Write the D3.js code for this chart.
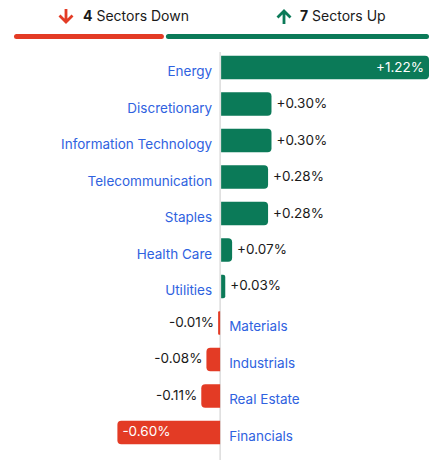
<!DOCTYPE html>
<html>
<head>
    <script src="https://d3js.org/d3.v7.min.js"></script>
    <style>
        body { margin: 0; background: #fff; font-family: Inter, "Noto Sans", Arial, sans-serif; }
        .cat { font-size: 13.5px; fill: #2f62e0; }
        .val { font-size: 13.5px; fill: #1a1a1a; }
        .val.inside { fill: #fff; }
        .head { font-size: 14px; fill: #1a1a1a; }
    </style>
</head>
<body>
<div id="chart"></div>
<script>
    const sectors = ["Energy", "Discretionary", "Information Technology", "Telecommunication", "Staples",
        "Health Care", "Utilities", "Materials", "Industrials", "Real Estate", "Financials"];
    const changes = [1.22, 0.30, 0.30, 0.28, 0.28, 0.07, 0.03, -0.01, -0.08, -0.11, -0.60];
    const downCount = 4;
    const upCount = 7;

    const width = 447, height = 460;
    const green = "#0b7a58", red = "#e33b25";

    const svg = d3.select("#chart").append("svg")
        .attr("width", width)
        .attr("height", height);

    // header: counts and split bar
    const down = svg.append("g").attr("transform", "translate(66,16)");
    down.append("path")
        .attr("d", "M0,-7 V6 M-6.5,-0.5 L0,6 L6.5,-0.5")
        .attr("fill", "none").attr("stroke", red).attr("stroke-width", 2.8);
    down.append("text").attr("class", "head").attr("x", 17).attr("y", 5)
        .html(`<tspan font-weight="700">${downCount}</tspan> Sectors Down`);

    const up = svg.append("g").attr("transform", "translate(284,16)");
    up.append("path")
        .attr("d", "M0,8 V-5 M-6.5,1.5 L0,-5 L6.5,1.5")
        .attr("fill", "none").attr("stroke", green).attr("stroke-width", 2.8);
    up.append("text").attr("class", "head").attr("x", 16).attr("y", 5)
        .html(`<tspan font-weight="700">${upCount}</tspan> Sectors Up`);

    const split = d3.scaleLinear().domain([0, downCount + upCount]).range([14, 429]);
    svg.append("rect").attr("x", split(0)).attr("y", 34).attr("width", split(downCount) - split(0) - 1)
        .attr("height", 5).attr("rx", 2.5).attr("fill", red);
    svg.append("rect").attr("x", split(downCount) + 1).attr("y", 34).attr("width", split(downCount + upCount) - split(downCount) - 1)
        .attr("height", 5).attr("rx", 2.5).attr("fill", green);

    // bars
    const x = d3.scaleLinear().domain([-0.60, 1.22]).range([117.4, 429]);
    const y = d3.scaleBand().domain(sectors).range([49.25, 450.75]).paddingInner(0.355).paddingOuter(0.18);
    const data = sectors.map((s, i) => ({ name: s, v: changes[i] }));

    svg.append("line")
        .attr("x1", x(0)).attr("x2", x(0))
        .attr("y1", 52).attr("y2", height)
        .attr("stroke", "#dcdcdc").attr("stroke-width", 1.5);

    const barPath = d => {
        const h = y.bandwidth(), top = y(d.name);
        if (d.v >= 0) {
            const x0 = x(0) + 1;
            const x1 = Math.max(x(d.v), x0 + 2);
            const r = Math.min(4, (x1 - x0) / 2);
            return `M${x0},${top} H${x1 - r} Q${x1},${top} ${x1},${top + r} V${top + h - r} Q${x1},${top + h} ${x1 - r},${top + h} H${x0} Z`;
        }
        const x0 = x(0);
        const x1 = Math.min(x(d.v), x0 - 2);
        const r = Math.min(4, (x0 - x1) / 2);
        return `M${x0},${top} H${x1 + r} Q${x1},${top} ${x1},${top + r} V${top + h - r} Q${x1},${top + h} ${x1 + r},${top + h} H${x0} Z`;
    };

    const rows = svg.selectAll(".row").data(data).enter().append("g").attr("class", "row");

    rows.append("path")
        .attr("d", barPath)
        .attr("fill", d => d.v >= 0 ? green : red);

    const fmt = v => (v >= 0 ? "+" : "") + v.toFixed(2) + "%";
    const mid = d => y(d.name) + y.bandwidth() / 2;
    const inside = d => Math.abs(x(d.v) - x(0)) > 80;

    rows.append("text")
        .attr("class", d => inside(d) ? "val inside" : "val")
        .attr("x", d => {
            if (d.v >= 0) return inside(d) ? x(d.v) - 5 : x(d.v) + 5;
            return inside(d) ? x(d.v) + 5 : Math.min(x(d.v), x(0) - 2) - 4;
        })
        .attr("y", d => mid(d) + 4)
        .attr("text-anchor", d => (d.v >= 0) === inside(d) ? "end" : "start")
        .text(d => fmt(d.v));

    rows.append("text")
        .attr("class", "cat")
        .attr("x", d => d.v >= 0 ? x(0) - 8 : x(0) + 9)
        .attr("y", d => mid(d) + 8.5)
        .attr("text-anchor", d => d.v >= 0 ? "end" : "start")
        .text(d => d.name);
</script>
</body>
</html>
